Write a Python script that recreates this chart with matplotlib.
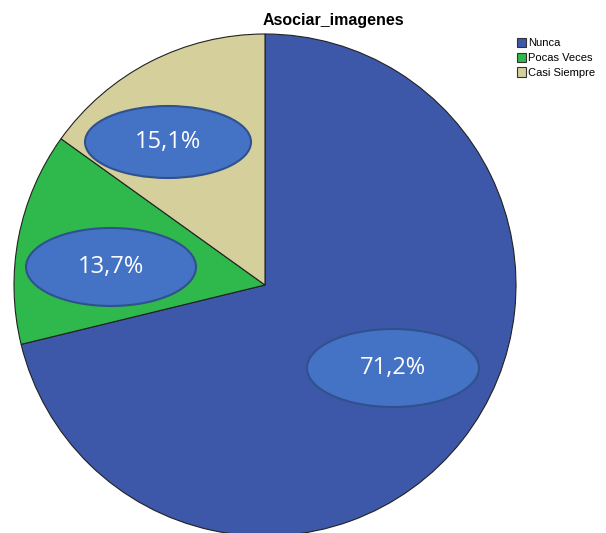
import matplotlib
matplotlib.use('Agg')
import matplotlib.pyplot as plt
from matplotlib.patches import Ellipse, Patch

categories = ["Nunca", "Pocas Veces", "Casi Siempre"]
values = [71.2, 13.7, 15.1]
labels = ["71,2%", "13,7%", "15,1%"]
colors = ["#3d57a9", "#2fb84b", "#d4cf9b"]

# pixel geometry of the original picture
W, H = 606, 533
cx, cy, R = 265, 285, 251

def px(x, y):
    return (x - cx) / R, (cy - y) / R

fig = plt.figure(figsize=(W / 100, H / 100), dpi=100)
ax = fig.add_axes([0, 0, 1, 1])
ax.pie(values, colors=colors, startangle=90, counterclock=False,
       wedgeprops=dict(edgecolor="#222222", linewidth=0.8))
ax.set_xlim(px(0, 0)[0], px(W, 0)[0])
ax.set_ylim(px(0, H)[1], px(0, 0)[1])
ax.set_aspect("equal")
ax.axis("off")

# label bubbles (pixel centres, sizes)
bubbles = [(393, 368, 172, 78), (111, 267, 170, 78), (168, 142, 166, 72)]
for (bx, by, bw, bh), lab in zip(bubbles, labels):
    x, y = px(bx, by)
    ax.add_patch(Ellipse((x, y), bw / R, bh / R, facecolor="#4472c4",
                         edgecolor="#2f528f", linewidth=1.5, zorder=5))
    ax.text(x, y, lab, ha="center", va="center", color="white",
            fontsize=17, family="Open Sans", zorder=6)

fig.text(333 / W, 1 - 20 / H, "Asociar_imagenes", ha="center", va="center",
         fontsize=11.5, fontweight="bold", family="Liberation Sans")

handles = [Patch(facecolor=c, edgecolor="#333333", linewidth=0.8) for c in colors]
fig.legend(handles, categories, loc="upper left", bbox_to_anchor=(517 / W, 1 - 38 / H),
           frameon=False, prop={"family": "Liberation Sans", "size": 8},
           handlelength=0.8, handleheight=0.9, handletextpad=0.2,
           labelspacing=0.38, borderpad=0, borderaxespad=0)

fig.savefig("out.png", dpi=100)
